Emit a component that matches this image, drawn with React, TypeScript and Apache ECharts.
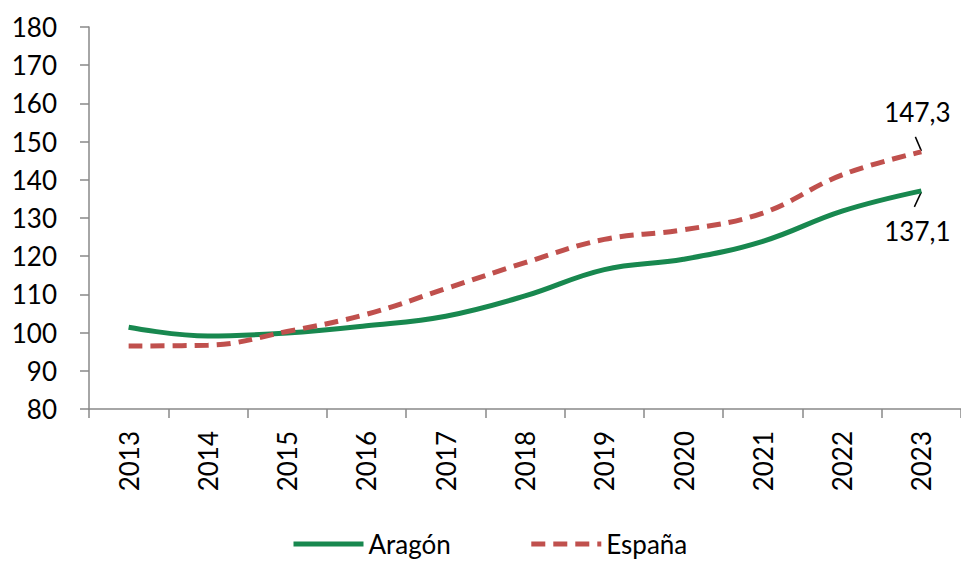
import React, { useEffect, useRef } from "react";
import * as echarts from "echarts";

const years = ["2013", "2014", "2015", "2016", "2017", "2018", "2019", "2020", "2021", "2022", "2023"];
const aragon = [101.4, 99.1, 99.9, 101.8, 104.3, 109.6, 116.5, 119.2, 123.9, 131.8, 137.1];
const espana = [96.5, 96.7, 100.3, 104.8, 111.5, 118.3, 124.4, 126.9, 131.3, 141.3, 147.3];
const yTicks = { min: 80, max: 180, interval: 10 };

const FONT = "Lato";
const GREEN = "#18884f";
const RED = "#c0504d";

export default function App() {
  const ref = useRef<HTMLDivElement>(null);
  useEffect(() => {
    if (!ref.current) return;
    const chart = echarts.init(ref.current, undefined, { renderer: "svg" });
    const lastIdx = years.length - 1;
    const fmt = (v: number) => v.toFixed(1).replace(".", ",");
    chart.setOption({
      animation: false,
      textStyle: { fontFamily: FONT },
      grid: { left: 89, top: 27, width: 876, height: 382, containLabel: false },
      xAxis: {
        type: "category",
        data: years,
        boundaryGap: true,
        axisLine: { lineStyle: { color: "#898989", width: 1.5 } },
        axisTick: { show: true, length: 9, lineStyle: { color: "#898989", width: 1.5 } },
        axisLabel: { rotate: 90, color: "#000", fontSize: 26, fontFamily: FONT, margin: 22 },
        splitLine: { show: false },
      },
      yAxis: {
        type: "value",
        min: yTicks.min,
        max: yTicks.max,
        interval: yTicks.interval,
        axisLine: { show: true, lineStyle: { color: "#898989", width: 1.5 } },
        axisTick: { show: true, length: 9, lineStyle: { color: "#898989", width: 1.5 } },
        axisLabel: { color: "#000", fontSize: 26, fontFamily: FONT, margin: 32 },
        splitLine: { show: false },
      },
      legend: {
        left: 286,
        top: 526,
        itemWidth: 70,
        itemHeight: 14,
        itemGap: 78,
        itemStyle: { opacity: 0 },
        lineStyle: { width: 5 },
        textStyle: { color: "#000", fontSize: 26, fontFamily: FONT },
        data: ["Aragón", "España"],
      },
      series: [
        {
          name: "Aragón",
          type: "line",
          data: aragon,
          smooth: 0.4,
          showSymbol: false,
          symbol: "none",
          lineStyle: { color: GREEN, width: 5 },
          itemStyle: { color: GREEN },
        },
        {
          name: "España",
          type: "line",
          data: espana,
          smooth: 0.4,
          showSymbol: false,
          symbol: "none",
          lineStyle: { color: RED, width: 5, type: [14, 8] },
          itemStyle: { color: RED },
        },
      ],
    });
    const pA = chart.convertToPixel({ seriesIndex: 0 }, [lastIdx, aragon[lastIdx]]) as number[];
    const pE = chart.convertToPixel({ seriesIndex: 1 }, [lastIdx, espana[lastIdx]]) as number[];
    const textStyle = { fontSize: 26, fontFamily: FONT, fill: "#000", align: "center", verticalAlign: "middle" };
    chart.setOption({
      graphic: [
        { type: "text", x: pE[0] - 4, y: pE[1] - 40, style: { ...textStyle, text: fmt(espana[lastIdx]) } },
        {
          type: "line",
          shape: { x1: pE[0] - 6, y1: pE[1] - 15, x2: pE[0], y2: pE[1] - 1 },
          style: { stroke: "#000", lineWidth: 1.5 },
        },
        { type: "text", x: pA[0] - 4, y: pA[1] + 40, style: { ...textStyle, text: fmt(aragon[lastIdx]) } },
        {
          type: "line",
          shape: { x1: pA[0], y1: pA[1] + 1, x2: pA[0] - 7, y2: pA[1] + 16 },
          style: { stroke: "#000", lineWidth: 1.5 },
        },
      ],
    });
    return () => chart.dispose();
  }, []);
  return (
    <div
      ref={ref}
      style={{ position: "absolute", left: 0, top: 0, width: 961, height: 561, background: "#fff" }}
    />
  );
}
